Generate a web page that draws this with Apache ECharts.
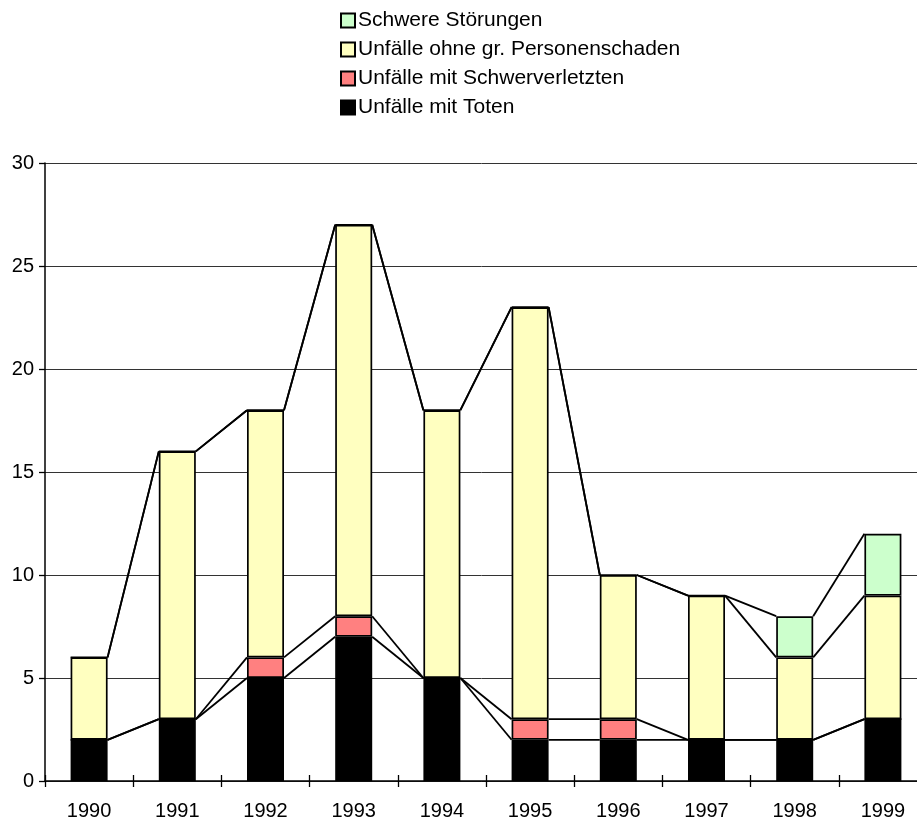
<!DOCTYPE html>
<html>
<head>
<meta charset="utf-8">
<script src="https://cdn.jsdelivr.net/npm/echarts@6/dist/echarts.min.js"></script>
<style>html,body{margin:0;padding:0;background:#fff}#c{width:917px;height:818px}</style>
</head>
<body>
<div id="c"></div>
<script>
const years = ['1990','1991','1992','1993','1994','1995','1996','1997','1998','1999'];
const toten = [2, 3, 5, 7, 5, 2, 2, 2, 2, 3];
const schwerverletzte = [0, 0, 1, 1, 0, 1, 1, 0, 0, 0];
const ohnePersonenschaden = [4, 13, 12, 19, 13, 20, 7, 7, 4, 6];
const stoerungen = [0, 0, 0, 0, 0, 0, 0, 0, 2, 3];
const yTicks = [0, 5, 10, 15, 20, 25, 30];

const names = ['Unfälle mit Toten', 'Unfälle mit Schwerverletzten', 'Unfälle ohne gr. Personenschaden', 'Schwere Störungen'];
const colors = ['#000000', '#FF8080', '#FFFFC0', '#CCFFCC'];
const seriesData = [toten, schwerverletzte, ohnePersonenschaden, stoerungen];

// cumulative tops for series lines
const cum = seriesData.map((_, k) => years.map((_, i) => seriesData.slice(0, k + 1).reduce((s, arr) => s + arr[i], 0)));
const lineData = [];
for (let i = 0; i < years.length - 1; i++) {
  const row = [i];
  for (let k = 0; k < 4; k++) row.push(cum[k][i]);
  for (let k = 0; k < 4; k++) row.push(cum[k][i + 1]);
  lineData.push(row);
}
const BAR_W = 37;
const FONT = 'Liberation Sans, Arial, sans-serif';

const chart = echarts.init(document.getElementById('c'), null, {renderer: 'canvas'});
const series = names.map((n, k) => ({
  name: n, type: 'bar', stack: 'a', data: seriesData[k], barWidth: BAR_W,
  itemStyle: {color: colors[k], borderColor: '#000', borderWidth: 1.7},
  emphasis: {disabled: true}
}));
series.push({
  type: 'custom', silent: true, clip: false, z: 5,
  data: lineData,
  encode: {x: 0, y: 1},
  renderItem: function (params, api) {
    const i = api.value(0);
    const children = [];
    for (let k = 0; k < 4; k++) {
      const p1 = api.coord([i, api.value(1 + k)]);
      const p2 = api.coord([i + 1, api.value(5 + k)]);
      children.push({
        type: 'line',
        shape: {x1: p1[0] + BAR_W / 2, y1: p1[1], x2: p2[0] - BAR_W / 2, y2: p2[1]},
        style: {stroke: '#000', lineWidth: 1.8}
      });
    }
    return {type: 'group', children: children};
  }
});

chart.setOption({
  animation: false,
  textStyle: {fontFamily: FONT},
  legend: {
    orient: 'vertical', left: 335, top: 5,
    data: [names[3], names[2], names[1], names[0]],
    itemWidth: 14, itemHeight: 14, itemGap: 8,
    icon: 'rect',
    textStyle: {fontSize: 21, color: '#000', fontFamily: FONT, padding: [0, 0, 0, -2]},
    selectedMode: false
  },
  grid: {left: 45, top: 163, width: 882, height: 618, containLabel: false, outerBoundsMode: 'none'},
  xAxis: [{
    type: 'category', data: years,
    axisLine: {lineStyle: {color: '#000', width: 1.5}},
    axisTick: {show: true, length: 6, lineStyle: {color: '#000', width: 1.3}},
    axisLabel: {color: '#000', fontSize: 20, margin: 20}
  }, {
    type: 'category', data: years, position: 'bottom',
    axisLine: {show: false},
    axisTick: {show: true, inside: true, length: 6, lineStyle: {color: '#000', width: 1.3}},
    axisLabel: {show: false}
  }],
  yAxis: {
    type: 'value', min: yTicks[0], max: yTicks[yTicks.length - 1], interval: 5,
    axisLine: {show: true, lineStyle: {color: '#000', width: 1.5}},
    axisTick: {show: true, length: 6, lineStyle: {color: '#000', width: 1.3}},
    axisLabel: {color: '#000', fontSize: 20, margin: 11},
    splitLine: {show: true, lineStyle: {color: '#333', width: 1}}
  },
  series: series
});
</script>
</body>
</html>
